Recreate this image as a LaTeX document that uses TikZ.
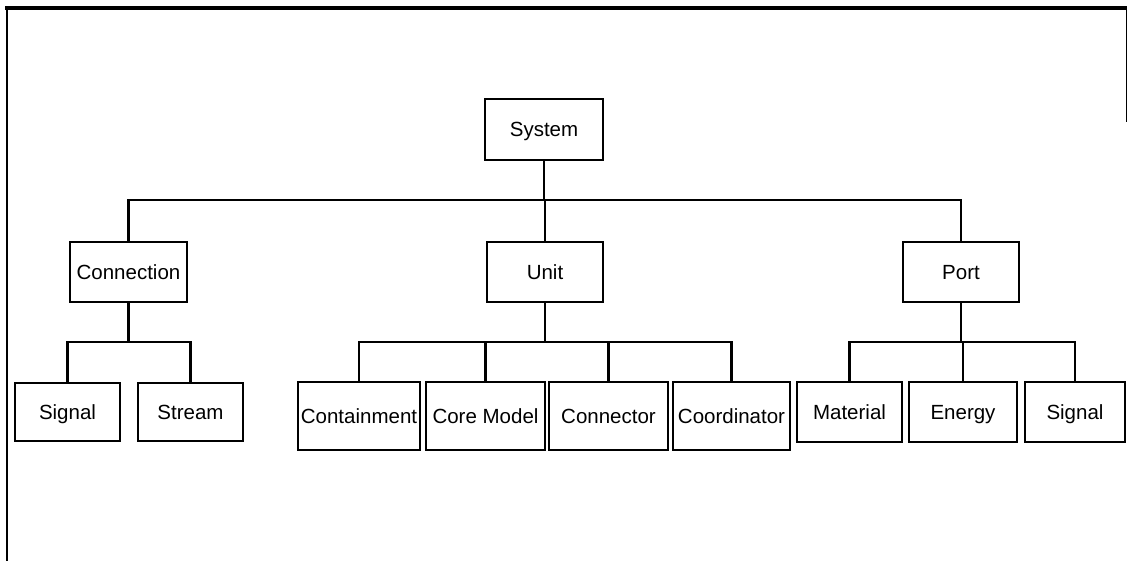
\documentclass[tikz,border=0pt]{standalone}
\usepackage{fontspec}
\setmainfont{Liberation Sans}
\begin{document}
\begin{tikzpicture}[x=1pt,y=-1pt,
  box/.style={draw, line width=2.2pt, rectangle, inner sep=0pt,
    text height=17pt, text depth=2.5pt,
    font=\fontsize{20.5}{24}\selectfont},
  link/.style={line width=2.2pt}]
\useasboundingbox (0,0) rectangle (1131,561);
% frame
\draw[line width=3.2pt] (5,8) -- (1127,8);
\draw[line width=2.2pt] (7,8) -- (7,561);
\draw[line width=1pt] (1126,8) -- (1126,122);
% top level
\node[box, minimum width=118pt, minimum height=61pt] (sys) at (544,129.5) {System};
% second level
\node[box, minimum width=117pt, minimum height=60pt] (conn) at (128.5,272) {Connection};
\node[box, minimum width=116pt, minimum height=60pt] (unit) at (545,272) {Unit};
\node[box, minimum width=116pt, minimum height=60pt] (port) at (961,272) {Port};
% children of Connection
\node[box, minimum width=105pt, minimum height=58pt] (csig) at (67.5,412) {Signal};
\node[box, minimum width=105pt, minimum height=58pt] (cstr) at (190.5,412) {Stream};
% children of Unit
\node[box, minimum width=122pt, minimum height=68pt] (ucon) at (359,416) {Containment};
\node[box, minimum width=119pt, minimum height=68pt] (ucor) at (485.5,416) {Core Model};
\node[box, minimum width=119pt, minimum height=68pt] (ucnr) at (608.5,416) {Connector};
\node[box, minimum width=117pt, minimum height=68pt] (ucoo) at (731.5,416) {Coordinator};
% children of Port
\node[box, minimum width=105pt, minimum height=60pt] (pmat) at (849.5,412) {Material};
\node[box, minimum width=108pt, minimum height=60pt] (pene) at (963,412) {Energy};
\node[box, minimum width=100pt, minimum height=60pt] (psig) at (1075,412) {Signal};
% tree connectors
\foreach \c in {conn,unit,port}
  \draw[link] (sys.south) -- (sys.south |- 0,200) -| (\c.north);
\foreach \c in {csig,cstr}
  \draw[link] (conn.south) -- (conn.south |- 0,342) -| (\c.north);
\foreach \c in {ucon,ucor,ucnr,ucoo}
  \draw[link] (unit.south) -- (unit.south |- 0,342) -| (\c.north);
\foreach \c in {pmat,pene,psig}
  \draw[link] (port.south) -- (port.south |- 0,342) -| (\c.north);
\end{tikzpicture}
\end{document}
